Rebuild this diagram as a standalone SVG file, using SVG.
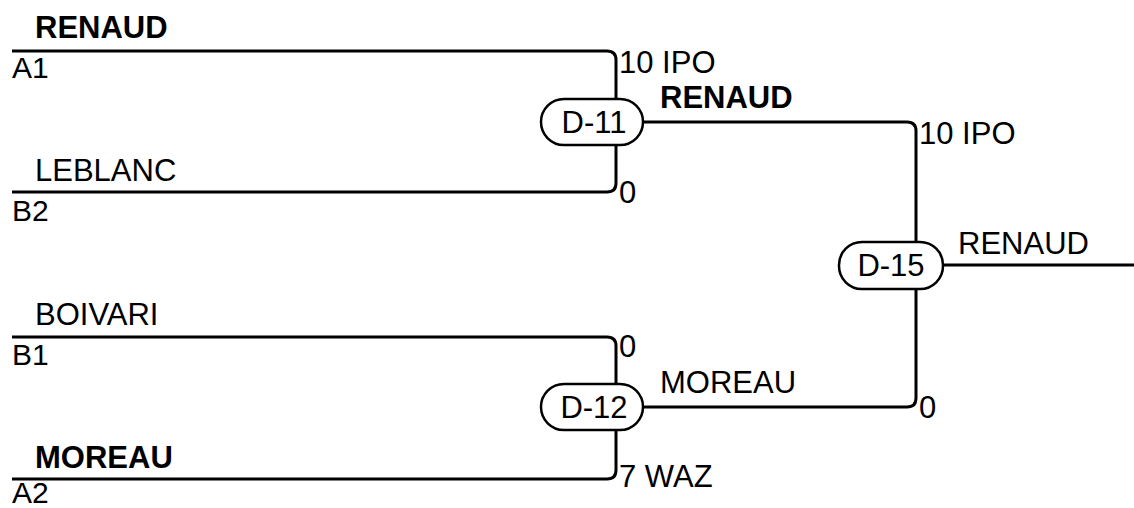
<svg xmlns="http://www.w3.org/2000/svg" width="1134" height="508" viewBox="0 0 1134 508">
<style>
.ln{fill:none;stroke:#000;stroke-width:3;stroke-linejoin:round}
.pill{fill:#fff;stroke:#000;stroke-width:2.5}
text{font-family:"Liberation Sans",Arial,sans-serif;font-size:31px;fill:#000}
.b{font-weight:bold}
.s{font-size:30px}
</style>
<rect width="1134" height="508" fill="#fff"/>
<g id="connectors">
<path class="ln" d="M12,51 H607 Q616,51 616,60 V100"/>
<path class="ln" d="M12,192 H607 Q616,192 616,183 V145"/>
<path class="ln" d="M12,337 H607 Q616,337 616,346 V384"/>
<path class="ln" d="M12,479 H607 Q616,479 616,470 V431"/>
<path class="ln" d="M643,122 H907 Q916,122 916,131 V243"/>
<path class="ln" d="M643,407 H907 Q916,407 916,398 V289"/>
<path class="ln" d="M943,265 H1134"/>
</g>
<g id="seeds">
<text class="s" x="12" y="78">A1</text>
<text class="s" x="12" y="221">B2</text>
<text class="s" x="12" y="365">B1</text>
<text class="s" x="12" y="503">A2</text>
</g>
<g id="names">
<text class="b" x="35" y="38">RENAUD</text>
<text x="35" y="181">LEBLANC</text>
<text x="35" y="325">BOIVARI</text>
<text class="b" x="35" y="468">MOREAU</text>
<text class="b" x="660" y="108">RENAUD</text>
<text x="660" y="393">MOREAU</text>
<text x="958" y="254">RENAUD</text>
</g>
<g id="scores">
<text x="619" y="73">10 IPO</text>
<text x="619" y="203">0</text>
<text x="619" y="357">0</text>
<text x="619" y="487">7 WAZ</text>
<text x="919" y="144">10 IPO</text>
<text x="919" y="418">0</text>
</g>
<g id="D-11">
<rect class="pill" x="541" y="99" width="102" height="46" rx="23"/>
<text x="594" y="133" text-anchor="middle">D-11</text>
</g>
<g id="D-12">
<rect class="pill" x="541" y="384" width="102" height="46" rx="23"/>
<text x="594" y="418" text-anchor="middle">D-12</text>
</g>
<g id="D-15">
<rect class="pill" x="839" y="242" width="104" height="47" rx="23"/>
<text x="891" y="276" text-anchor="middle">D-15</text>
</g>
</svg>
